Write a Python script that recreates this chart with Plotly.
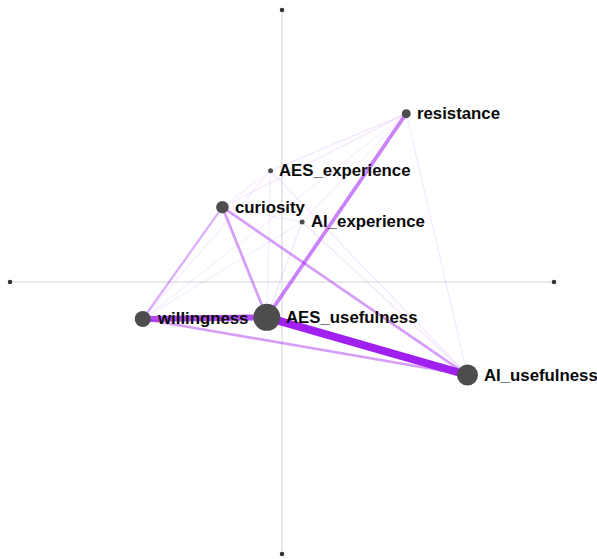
import plotly.graph_objects as go

# Node layout (first two dimensions) and node weights
nodes = ["resistance", "AES_experience", "curiosity", "AI_experience",
         "willingness", "AES_usefulness", "AI_usefulness"]
node_x = [0.457, -0.042, -0.219, 0.074, -0.512, -0.056, 0.682]
node_y = [0.619, 0.409, 0.275, 0.221, -0.136, -0.130, -0.342]
node_size = [9, 5, 12.5, 5, 16, 27, 21]

# Co-occurrence edges and their strength
edge_from = ["AES_usefulness", "willingness", "AES_usefulness", "curiosity",
             "willingness", "curiosity", "curiosity", "resistance", "resistance",
             "resistance", "resistance", "AES_experience", "AES_experience",
             "AES_experience", "AES_experience", "AI_experience", "AI_experience",
             "AI_experience", "AI_experience", "AI_experience", "AES_experience"]
edge_to = ["AI_usefulness", "AES_usefulness", "resistance", "AI_usefulness",
           "AI_usefulness", "AES_usefulness", "willingness", "AI_usefulness",
           "AES_experience", "curiosity", "willingness", "AES_usefulness",
           "willingness", "AI_usefulness", "curiosity", "AES_usefulness",
           "willingness", "AI_usefulness", "curiosity", "resistance",
           "AI_experience"]
edge_weight = [1.0, 0.7, 0.38, 0.25, 0.25, 0.25, 0.18, 0.025, 0.03, 0.025, 0.015,
               0.02, 0.02, 0.025, 0.015, 0.03, 0.02, 0.03, 0.02, 0.015, 0.01]

pos = {n: (x, y) for n, x, y in zip(nodes, node_x, node_y)}

fig = go.Figure()

# Cross-hair axes with end points
fig.add_trace(go.Scatter(x=[-1, 1], y=[0, 0], mode="lines",
                         line=dict(color="#e3e3e3", width=1.5),
                         hoverinfo="skip", showlegend=False))
fig.add_trace(go.Scatter(x=[0, 0], y=[-1, 1], mode="lines",
                         line=dict(color="#e3e3e3", width=1.5),
                         hoverinfo="skip", showlegend=False))
fig.add_trace(go.Scatter(x=[-1, 1, 0, 0], y=[0, 0, -1, 1], mode="markers",
                         marker=dict(color="#333333", size=4.5, opacity=1),
                         cliponaxis=False, hoverinfo="skip", showlegend=False))

# Edges, weakest first so strong links sit on top
order = sorted(range(len(edge_weight)), key=lambda i: edge_weight[i])
for i in order:
    w = edge_weight[i]
    a, b = pos[edge_from[i]], pos[edge_to[i]]
    alpha = min(1.0, w ** 0.6)
    fig.add_trace(go.Scatter(
        x=[a[0], b[0]], y=[a[1], b[1]], mode="lines",
        line=dict(color=f"rgba(160,32,240,{alpha:.3f})", width=1 + 7 * w),
        hoverinfo="skip", showlegend=False))

# Nodes
fig.add_trace(go.Scatter(
    x=node_x, y=node_y, mode="markers",
    marker=dict(color="#4d4d4d", size=node_size, opacity=1, line=dict(width=0)),
    text=nodes, hoverinfo="text", cliponaxis=False, showlegend=False))

# Node labels to the right of each node
for n, x, y, s in zip(nodes, node_x, node_y, node_size):
    fig.add_annotation(x=x, y=y, text=f"<b>{n}</b>", showarrow=False,
                       xanchor="left", yanchor="middle", xshift=s / 2 + 4,
                       font=dict(family="Liberation Sans, Arial, sans-serif",
                                 size=16.8, color="#0a0a0a"))

fig.update_layout(
    width=597, height=559,
    margin=dict(l=10, r=43, t=10, b=5),
    plot_bgcolor="white", paper_bgcolor="white",
    xaxis=dict(range=[-1, 1], visible=False, fixedrange=True),
    yaxis=dict(range=[-1, 1], visible=False, fixedrange=True),
)

fig.write_html("out.html")
